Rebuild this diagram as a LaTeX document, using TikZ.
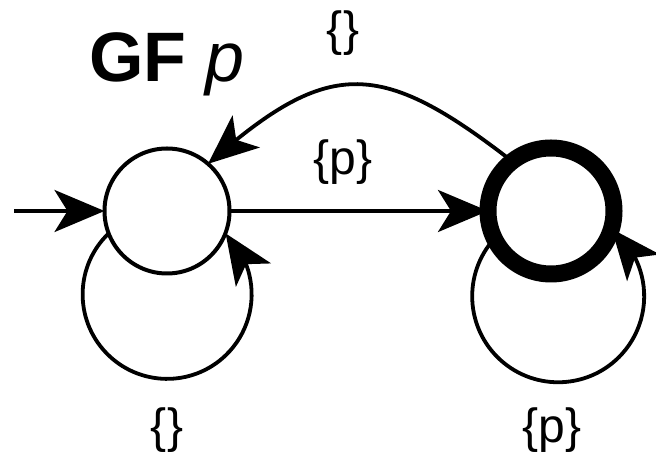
\documentclass[tikz,border=0pt]{standalone}
\usepackage{fontspec}
\setmainfont{Liberation Sans}
\usetikzlibrary{arrows.meta,bending}
\pgfdeclarelayer{background}
\pgfsetlayers{background,main}
\begin{document}
\begin{tikzpicture}[x=1pt,y=1pt,
  state/.style={circle, draw, fill=white, minimum size=125pt, inner sep=0pt,
    outer sep=0pt, line width=4pt},
  accepting/.style={line width=17pt, minimum size=126pt},
  trans/.style={line width=3.8pt,
    -{Stealth[length=50pt,width=42pt,inset=13pt]}},
  lbl/.style={font=\fontsize{48}{56}\selectfont, inner sep=0pt}]
\useasboundingbox (0,0) rectangle (656,457);

% states
\node[state] (A) at (167,246) {};
\node[state,accepting] (B) at (551,246) {};
\coordinate (init) at (14,246);

% title
\node[font=\fontsize{70}{80}\selectfont, anchor=base west, inner sep=0pt]
  (title) at (89,375) {\textbf{GF} \textit{p}};

% transition labels
\node[lbl] (lBA) at (343,424) {\{\}};
\node[lbl] (lAB) at (343,295) {\{p\}};
\node[lbl] (lAA) at (167,27) {\{\}};
\node[lbl] (lBB) at (552,27) {\{p\}};

% transitions, drawn beneath the states
\begin{pgfonlayer}{background}
\draw[trans] (init) -- (A);
\draw[trans] (A) -- (B);
\draw[trans] (B.128) .. controls (379,399) and (328,399) .. (A.49);
\draw[trans] (A.201) arc[start angle=133.8, end angle=406.2, radius=84.5];
\draw[trans] (B.206) arc[start angle=137.9, end angle=411.5, radius=86];
\end{pgfonlayer}
\end{tikzpicture}
\end{document}
